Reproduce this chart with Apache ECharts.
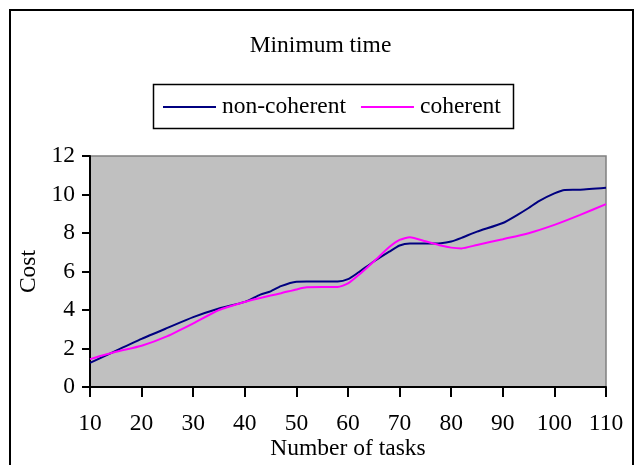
<!DOCTYPE html>
<html>
<head>
<meta charset="utf-8">
<script src="https://cdn.jsdelivr.net/npm/echarts@6/dist/echarts.min.js"></script>
<style>
  html, body { margin: 0; padding: 0; background: #ffffff; }
  #chart { width: 641px; height: 465px; }
</style>
</head>
<body>
<div id="chart"></div>
<script>
// Number of tasks at which each cost was sampled
const nonCoherentTasks = [10, 15, 20, 25, 30, 35, 40, 43, 45, 47, 50, 52, 55, 58, 60, 62, 65, 68, 70, 72, 75, 78, 80, 82, 85, 90, 93, 95, 97, 100, 102, 105, 110];
const nonCoherentCost  = [1.25, 1.88, 2.5, 3.07, 3.63, 4.08, 4.42, 4.8, 4.97, 5.24, 5.47, 5.48, 5.48, 5.48, 5.6, 5.95, 6.52, 7.03, 7.35, 7.45, 7.45, 7.47, 7.56, 7.75, 8.07, 8.52, 8.97, 9.3, 9.66, 10.06, 10.24, 10.25, 10.35];

const coherentTasks = [10, 15, 20, 25, 30, 35, 40, 43, 45, 47, 50, 52, 55, 58, 60, 62, 65, 68, 70, 72, 75, 78, 80, 82, 85, 90, 95, 100, 105, 110];
const coherentCost  = [1.45, 1.83, 2.14, 2.64, 3.3, 4.0, 4.42, 4.62, 4.75, 4.87, 5.07, 5.18, 5.19, 5.19, 5.38, 5.8, 6.52, 7.27, 7.64, 7.78, 7.57, 7.35, 7.24, 7.2, 7.38, 7.68, 7.99, 8.42, 8.94, 9.5];

const seriesNames = ['non-coherent', 'coherent'];
const xTicks = [10, 20, 30, 40, 50, 60, 70, 80, 90, 100, 110];
const yTicks = [0, 2, 4, 6, 8, 10, 12];

const serif = '"Liberation Serif", "DejaVu Serif", serif';
const fontSize = 23.5;

function pairs(xs, ys) {
  return xs.map((x, i) => [x, ys[i]]);
}

const chart = echarts.init(document.getElementById('chart'), null, { renderer: 'canvas' });

chart.setOption({
  animation: false,
  backgroundColor: '#ffffff',
  title: {
    text: 'Minimum time',
    left: 'center',
    top: 29,
    textStyle: { fontFamily: serif, fontSize: fontSize, fontWeight: 'normal', color: '#000' }
  },
  legend: {
    data: seriesNames,
    left: 163,
    top: 95,
    icon: 'rect',
    itemWidth: 53,
    itemHeight: 2,
    itemGap: 15,
    padding: 0,
    textStyle: { fontFamily: serif, fontSize: fontSize, color: '#000', padding: [0, 0, 0, 1] }
  },
  graphic: [
    {
      type: 'rect',
      silent: true,
      shape: { x: 10, y: 10, width: 623, height: 470 },
      style: { fill: null, stroke: '#000', lineWidth: 2 }
    },
    {
      type: 'rect',
      silent: true,
      shape: { x: 153.5, y: 84.5, width: 360, height: 44 },
      style: { fill: null, stroke: '#000', lineWidth: 1.5 }
    }
  ],
  grid: {
    left: 90,
    right: 35,
    top: 156,
    bottom: 78,
    show: true,
    backgroundColor: '#c0c0c0',
    borderColor: '#808080',
    borderWidth: 1.5
  },
  xAxis: {
    type: 'value',
    min: xTicks[0],
    max: xTicks[xTicks.length - 1],
    interval: 10,
    name: 'Number of tasks',
    nameLocation: 'middle',
    nameGap: 47,
    nameTextStyle: { fontFamily: serif, fontSize: fontSize, color: '#000' },
    axisLine: { show: true, onZero: false, lineStyle: { color: '#000', width: 2 } },
    axisTick: { show: true, length: 10, lineStyle: { color: '#000', width: 2 } },
    axisLabel: { margin: 25, fontFamily: serif, fontSize: fontSize, color: '#000' },
    splitLine: { show: false }
  },
  yAxis: {
    type: 'value',
    min: yTicks[0],
    max: yTicks[yTicks.length - 1],
    interval: 2,
    name: 'Cost',
    nameLocation: 'middle',
    nameGap: 42,
    nameTextStyle: { fontFamily: serif, fontSize: fontSize, color: '#000' },
    axisLine: { show: true, lineStyle: { color: '#000', width: 2 } },
    axisTick: { show: true, length: 8, lineStyle: { color: '#000', width: 2 } },
    axisLabel: { margin: 15, fontFamily: serif, fontSize: fontSize, color: '#000' },
    splitLine: { show: false }
  },
  series: [
    {
      name: seriesNames[0],
      type: 'line',
      data: pairs(nonCoherentTasks, nonCoherentCost),
      showSymbol: false,
      smooth: 0.2,
      color: '#000080',
      lineStyle: { color: '#000080', width: 2 }
    },
    {
      name: seriesNames[1],
      type: 'line',
      data: pairs(coherentTasks, coherentCost),
      showSymbol: false,
      smooth: 0.2,
      color: '#ff00ff',
      lineStyle: { color: '#ff00ff', width: 2 }
    }
  ]
});
</script>
</body>
</html>
